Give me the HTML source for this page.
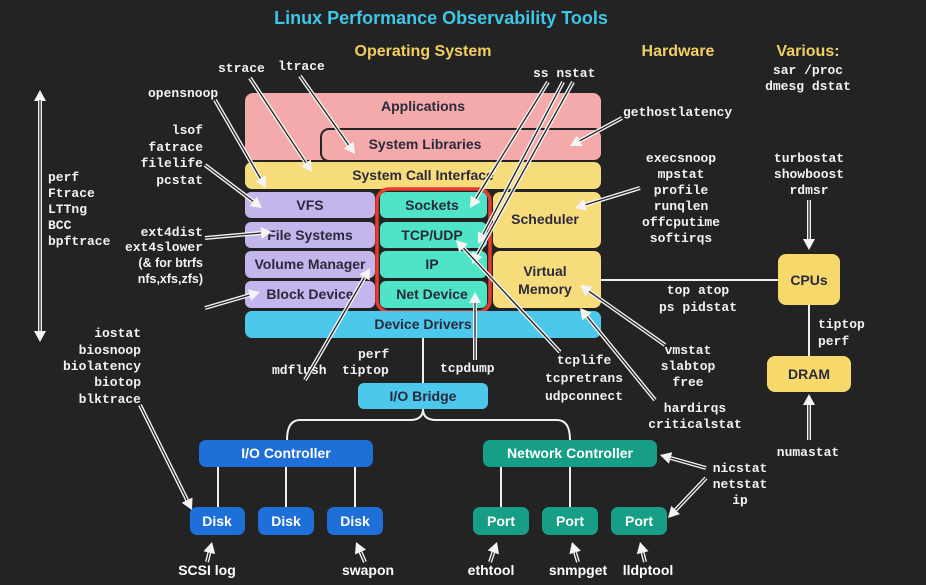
<!DOCTYPE html>
<html><head><meta charset="utf-8"><style>
html,body{margin:0;padding:0;background:#232323;}
svg{display:block;}
.t{font-family:"Liberation Sans",sans-serif;font-weight:bold;}
.m{font-family:"Liberation Mono",monospace;font-weight:bold;font-size:13px;fill:#f2f2f2;}
.h{font-family:"Liberation Sans",sans-serif;font-weight:bold;font-size:16px;fill:#f2cf62;}
.bx{font-family:"Liberation Sans",sans-serif;font-weight:bold;font-size:14px;fill:#2a2a3a;}
.w{font-family:"Liberation Sans",sans-serif;font-weight:bold;font-size:14px;fill:#fff;}
.ln{stroke:#f0f0f0;stroke-width:2;fill:none;}
</style></head><body>
<svg id="s" width="926" height="585" viewBox="0 0 926 585" xmlns="http://www.w3.org/2000/svg">
<rect width="926" height="585" fill="#232323"/>
<text x="441" y="24" text-anchor="middle" class="t" font-size="18" fill="#3ec6e6">Linux Performance Observability Tools</text>
<text x="423" y="56" text-anchor="middle" class="h">Operating System</text>
<text x="678" y="56" text-anchor="middle" class="h">Hardware</text>
<text x="808" y="56" text-anchor="middle" class="h">Various:</text>
<text x="808" y="74" text-anchor="middle" class="m">sar /proc</text>
<text x="808" y="90" text-anchor="middle" class="m">dmesg dstat</text>

<g class="ln">
<line x1="423" y1="338" x2="423" y2="383"/>
<path d="M423 409 Q423 420 410 420 L300 420 Q287 420 287 440"/>
<path d="M423 409 Q423 420 436 420 L557 420 Q570 420 570 440"/>
<line x1="218" y1="467" x2="218" y2="507"/>
<line x1="286" y1="467" x2="286" y2="507"/>
<line x1="355" y1="467" x2="355" y2="507"/>
<line x1="501" y1="467" x2="501" y2="507"/>
<line x1="570" y1="467" x2="570" y2="507"/>
<line x1="601" y1="280" x2="778" y2="280"/>
<line x1="809" y1="305" x2="809" y2="356"/>
</g>

<rect x="245" y="93" width="356" height="67" rx="8" fill="#f4a9ab"/>
<rect x="321" y="129" width="281" height="32" rx="8" fill="#f4a9ab" stroke="#232323" stroke-width="2"/>
<text x="423" y="111" text-anchor="middle" class="bx">Applications</text>
<text x="425" y="149" text-anchor="middle" class="bx">System Libraries</text>
<rect x="245" y="162" width="356" height="27" rx="7" fill="#f7dc7b"/>
<text x="423" y="180" text-anchor="middle" class="bx" font-size="12.5">System Call Interface</text>
<rect x="245" y="192" width="130" height="26" rx="6" fill="#c4b5ec"/>
<rect x="245" y="222" width="130" height="26" rx="6" fill="#c4b5ec"/>
<rect x="245" y="251" width="130" height="27" rx="6" fill="#c4b5ec"/>
<rect x="245" y="281" width="130" height="27" rx="6" fill="#c4b5ec"/>
<text x="310" y="210" text-anchor="middle" class="bx">VFS</text>
<text x="310" y="240" text-anchor="middle" class="bx">File Systems</text>
<text x="310" y="269" text-anchor="middle" class="bx">Volume Manager</text>
<text x="310" y="299" text-anchor="middle" class="bx">Block Device</text>
<rect x="380" y="192" width="107" height="26" rx="6" fill="#4fe3c7"/>
<rect x="380" y="222" width="107" height="26" rx="6" fill="#4fe3c7"/>
<rect x="380" y="251" width="107" height="27" rx="6" fill="#4fe3c7"/>
<rect x="380" y="281" width="107" height="27" rx="6" fill="#4fe3c7"/>
<text x="432" y="210" text-anchor="middle" class="bx">Sockets</text>
<text x="432" y="240" text-anchor="middle" class="bx">TCP/UDP</text>
<text x="432" y="269" text-anchor="middle" class="bx">IP</text>
<text x="432" y="299" text-anchor="middle" class="bx">Net Device</text>
<rect x="493" y="192" width="108" height="56" rx="7" fill="#f7dc7b"/>
<rect x="493" y="251" width="108" height="57" rx="7" fill="#f7dc7b"/>
<text x="545" y="224" text-anchor="middle" class="bx">Scheduler</text>
<text x="545" y="276" text-anchor="middle" class="bx">Virtual</text>
<text x="545" y="294" text-anchor="middle" class="bx">Memory</text>
<rect x="377" y="189" width="113" height="123" rx="12" fill="none" stroke="#e63b2e" stroke-width="3.5"/>
<rect x="245" y="311" width="356" height="27" rx="7" fill="#4cc8ec"/>
<text x="423" y="329" text-anchor="middle" class="bx">Device Drivers</text>
<rect x="358" y="383" width="130" height="26" rx="6" fill="#4cc8ec"/>
<text x="423" y="401" text-anchor="middle" class="bx">I/O Bridge</text>

<rect x="199" y="440" width="174" height="27" rx="7" fill="#1f6fd8"/>
<text x="286" y="458" text-anchor="middle" class="w">I/O Controller</text>
<rect x="190" y="507" width="55" height="28" rx="7" fill="#1f6fd8"/>
<rect x="258" y="507" width="56" height="28" rx="7" fill="#1f6fd8"/>
<rect x="327" y="507" width="56" height="28" rx="7" fill="#1f6fd8"/>
<text x="217" y="526" text-anchor="middle" class="w">Disk</text>
<text x="286" y="526" text-anchor="middle" class="w">Disk</text>
<text x="355" y="526" text-anchor="middle" class="w">Disk</text>
<rect x="483" y="440" width="174" height="27" rx="7" fill="#169f86"/>
<text x="570" y="458" text-anchor="middle" class="w">Network Controller</text>
<rect x="473" y="507" width="56" height="28" rx="7" fill="#169f86"/>
<rect x="542" y="507" width="56" height="28" rx="7" fill="#169f86"/>
<rect x="611" y="507" width="56" height="28" rx="7" fill="#169f86"/>
<text x="501" y="526" text-anchor="middle" class="w">Port</text>
<text x="570" y="526" text-anchor="middle" class="w">Port</text>
<text x="639" y="526" text-anchor="middle" class="w">Port</text>

<rect x="778" y="254" width="62" height="51" rx="8" fill="#f7d96b"/>
<text x="809" y="285" text-anchor="middle" class="bx">CPUs</text>
<rect x="767" y="356" width="84" height="36" rx="8" fill="#f7d96b"/>
<text x="809" y="379" text-anchor="middle" class="bx">DRAM</text>

<text class="m" x="48" y="181">perf</text>
<text class="m" x="48" y="197">Ftrace</text>
<text class="m" x="48" y="213">LTTng</text>
<text class="m" x="48" y="229">BCC</text>
<text class="m" x="48" y="245">bpftrace</text>
<text class="m" x="218" y="72">strace</text>
<text class="m" x="278" y="70">ltrace</text>
<text class="m" x="148" y="97">opensnoop</text>
<g text-anchor="end">
<text class="m" x="203" y="134">lsof</text>
<text class="m" x="203" y="151">fatrace</text>
<text class="m" x="203" y="167">filelife</text>
<text class="m" x="203" y="184">pcstat</text>
<text class="m" x="203" y="236">ext4dist</text>
<text class="m" x="203" y="251">ext4slower</text>
<text class="t" x="203" y="267" font-size="12.5" fill="#f2f2f2" font-weight="normal">(&amp; for btrfs</text>
<text class="t" x="203" y="283" font-size="12.5" fill="#f2f2f2" font-weight="normal">nfs,xfs,zfs)</text>
<text class="m" x="141" y="337">iostat</text>
<text class="m" x="141" y="354">biosnoop</text>
<text class="m" x="141" y="370">biolatency</text>
<text class="m" x="141" y="386">biotop</text>
<text class="m" x="141" y="403">blktrace</text>
</g>
<text class="m" x="272" y="374">mdflush</text>
<text class="m" x="358" y="358">perf</text>
<text class="m" x="342" y="374">tiptop</text>
<text class="m" x="440" y="372">tcpdump</text>
<text class="m" x="533" y="77">ss nstat</text>
<text class="m" x="623" y="116">gethostlatency</text>
<g text-anchor="middle">
<text class="m" x="681" y="162">execsnoop</text>
<text class="m" x="681" y="178">mpstat</text>
<text class="m" x="681" y="194">profile</text>
<text class="m" x="681" y="210">runqlen</text>
<text class="m" x="681" y="226">offcputime</text>
<text class="m" x="681" y="242">softirqs</text>
<text class="m" x="698" y="294">top atop</text>
<text class="m" x="698" y="311">ps pidstat</text>
<text class="m" x="584" y="364">tcplife</text>
<text class="m" x="584" y="382">tcpretrans</text>
<text class="m" x="584" y="400">udpconnect</text>
<text class="m" x="688" y="354">vmstat</text>
<text class="m" x="688" y="370">slabtop</text>
<text class="m" x="688" y="386">free</text>
<text class="m" x="695" y="412">hardirqs</text>
<text class="m" x="695" y="428">criticalstat</text>
<text class="m" x="809" y="162">turbostat</text>
<text class="m" x="809" y="178">showboost</text>
<text class="m" x="809" y="194">rdmsr</text>
<text class="m" x="808" y="456">numastat</text>
<text class="m" x="740" y="472">nicstat</text>
<text class="m" x="740" y="488">netstat</text>
<text class="m" x="740" y="504">ip</text>
<text class="w" x="207" y="575">SCSI log</text>
<text class="w" x="368" y="575">swapon</text>
<text class="w" x="491" y="575">ethtool</text>
<text class="w" x="578" y="575">snmpget</text>
<text class="w" x="648" y="575">lldptool</text>
</g>
<text class="m" x="818" y="328">tiptop</text>
<text class="m" x="818" y="345">perf</text>
<g id="arr"></g>
</svg>
<script>
var A=[[40,330,40,90],[40,100,40,342],
[215,100,266,188],[250,78,312,172],[300,76,355,154],
[205,165,262,208],[205,238,272,232],[205,308,260,292],[140,405,192,510],
[305,380,370,268],[475,360,475,292],
[548,82,470,208],[563,82,478,244],[573,82,472,264],
[560,352,456,240],[622,118,570,146],[640,188,575,208],
[665,345,580,285],[655,400,580,308],
[809,200,809,250],[809,440,809,394],
[706,468,660,455],[706,478,668,518],
[207,562,212,542],[365,562,356,542],[490,562,497,542],[578,562,572,542],[645,562,640,542]];
var g=document.getElementById('arr'),h='';
A.forEach(function(a){var x1=a[0],y1=a[1],x2=a[2],y2=a[3],dx=x2-x1,dy=y2-y1,L=Math.hypot(dx,dy),ux=dx/L,uy=dy/L,px=-uy,py=ux,s=11,w=6;
var bx=x2-ux*s,by=y2-uy*s;
h+='<line x1="'+x1+'" y1="'+y1+'" x2="'+bx+'" y2="'+by+'" stroke="#f4f4f4" stroke-width="4"/>';
h+='<line x1="'+x1+'" y1="'+y1+'" x2="'+bx+'" y2="'+by+'" stroke="#232323" stroke-width="1.3"/>';
h+='<polygon points="'+x2+','+y2+' '+(bx+px*w)+','+(by+py*w)+' '+(bx-px*w)+','+(by-py*w)+'" fill="#f4f4f4"/>';});
g.innerHTML=h;
</script>
</body></html>
